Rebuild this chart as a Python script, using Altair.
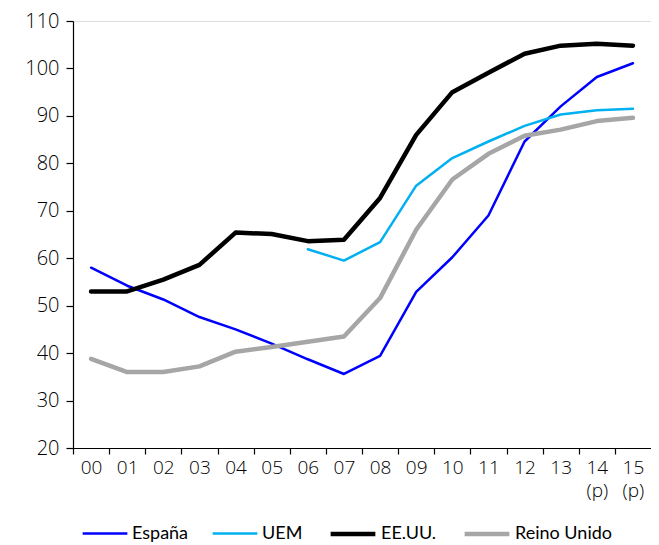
import altair as alt
import pandas as pd

years = ["00", "01", "02", "03", "04", "05", "06", "07", "08", "09", "10", "11", "12", "13", "14", "15"]
espana = [58.0, 54.2, 51.3, 47.6, 45.0, 42.0, 38.7, 35.6, 39.4, 52.9, 60.2, 69.0, 84.6, 92.0, 98.2, 101.1]
uem = [None, None, None, None, None, None, 61.9, 59.5, 63.4, 75.3, 81.1, 84.6, 87.9, 90.3, 91.2, 91.5]
eeuu = [53.0, 53.0, 55.5, 58.6, 65.4, 65.1, 63.6, 63.9, 72.7, 86.0, 95.0, 99.1, 103.1, 104.8, 105.2, 104.8]
reino = [38.8, 36.0, 36.0, 37.2, 40.3, 41.3, 42.4, 43.5, 51.6, 66.0, 76.6, 82.0, 85.8, 87.1, 88.9, 89.6]

series_names = ["España", "UEM", "EE.UU.", "Reino Unido"]
series_vals = [espana, uem, eeuu, reino]
colors = ["#0000FF", "#00B0F0", "#000000", "#A6A6A6"]
widths = [2.5, 2.5, 4.5, 4.5]

rows = []
for name, vals in zip(series_names, series_vals):
    for y, v in zip(years, vals):
        if v is not None:
            rows.append({"year": y, "value": v, "serie": name})
df = pd.DataFrame(rows)

AXFONT = "Open Sans"
LEGFONT = "Lato"
W = 578
step = W / 16.0
leg = alt.Legend(title=None, orient="none", direction="horizontal",
                 legendX=8, legendY=488, symbolType="stroke", symbolSize=2000,
                 labelFont=LEGFONT, labelFontSize=18, labelColor="#000000",
                 columnPadding=18, labelOffset=3, symbolOffset=0)

chart = alt.Chart(df).mark_line(strokeCap="round", strokeJoin="round").encode(
    x=alt.X("year:O", sort=years,
            scale=alt.Scale(type="point", padding=0.5, domain=years),
            axis=alt.Axis(title=None, labelAngle=0, tickOffset=-step / 2, labelOffset=step / 2,
                          labelExpr="(datum.value == '14' || datum.value == '15') ? [datum.value, '(p)'] : datum.value",
                          labelFont=AXFONT, labelFontWeight=300, labelFontSize=19, labelColor="#000000",
                          labelPadding=4, labelLineHeight=23, labelBaseline="top",
                          domainColor="#000000", tickColor="#000000", tickSize=6, domainWidth=1.2, tickWidth=1.2)),
    y=alt.Y("value:Q", scale=alt.Scale(domain=[20, 110], nice=False, zero=False),
            axis=alt.Axis(title=None, values=[20, 30, 40, 50, 60, 70, 80, 90, 100, 110], grid=False,
                          labelFont=AXFONT, labelFontWeight=300, labelFontSize=20, labelColor="#000000",
                          labelPadding=7,
                          domainColor="#000000", tickColor="#000000", tickSize=7, domainWidth=1.2, tickWidth=1.2)),
    color=alt.Color("serie:N", sort=series_names,
                    scale=alt.Scale(domain=series_names, range=colors), legend=leg),
    strokeWidth=alt.StrokeWidth("serie:N", sort=series_names,
                                scale=alt.Scale(type="ordinal", domain=series_names, range=widths), legend=leg),
    detail="serie:N",
).properties(
    width=W, height=427,
    padding={"left": 65, "top": 13, "right": 0, "bottom": 96},
    autosize=alt.AutoSizeParams(type="none"),
).configure_view(stroke=None).configure(background="white")

chart.save("out.html", embed_options={"renderer": "svg", "actions": False})
